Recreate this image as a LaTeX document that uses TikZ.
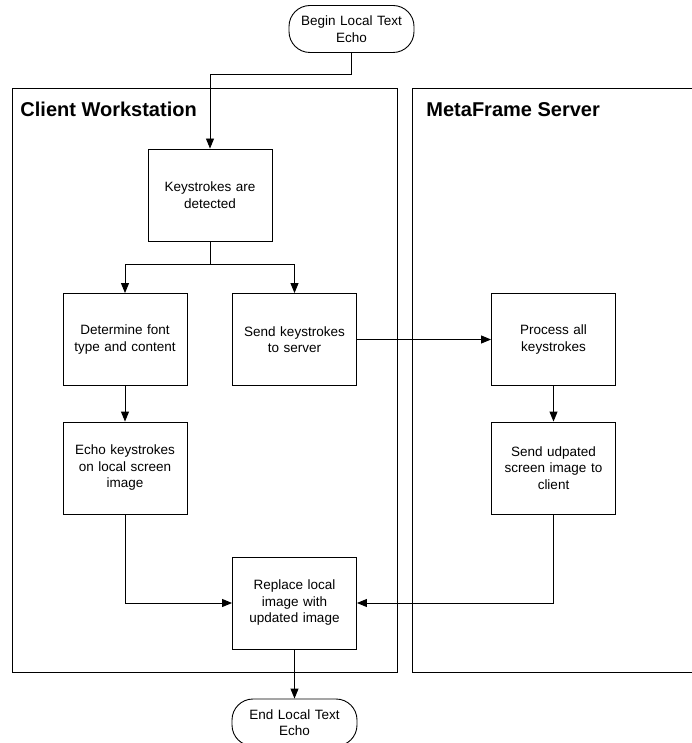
\documentclass[tikz,border=0pt]{standalone}
\usepackage{fontspec}
\setmainfont{Liberation Sans}
\usetikzlibrary{arrows.meta}
\begin{document}
\begin{tikzpicture}[x=1pt,y=-1pt,
  line width=0.9pt,
  stepbox/.style={draw, minimum width=124pt, minimum height=92pt, inner sep=2pt,
    text width=116pt, align=center, font=\fontsize{13.5}{16.5}\selectfont},
  term/.style={draw, rounded corners=21pt, minimum width=125pt, minimum height=47pt,
    inner sep=2pt, text width=120pt, align=center, font=\fontsize{13.5}{16.5}\selectfont},
  lanetitle/.style={anchor=base west, inner sep=0pt, font=\fontsize{20}{24}\selectfont\bfseries},
  arr/.style={-{Triangle[length=10pt,width=8pt]}},
  lane/.style={draw}]
\useasboundingbox (0,0) rectangle (692,743);
\clip (0,0) rectangle (692,743);
% lanes
\draw[lane] (12,88) rectangle (397,672);
\draw[lane] (700,88) -- (412,88) -- (412,672) -- (700,672);
\node[lanetitle] (t1) at (20,117) {Client Workstation};
\node[lanetitle] (t2) at (426,117) {MetaFrame Server};
% nodes
\node[term] (begin) at (351.5,29) {Begin Local Text\\Echo};
\node[stepbox] (kd) at (210,195) {Keystrokes are\\detected};
\node[stepbox] (df) at (125,339.5) {Determine font\\type and content};
\node[stepbox] (sk) at (294.5,339.5) {Send keystrokes\\to server};
\node[stepbox] (pk) at (553.5,339.5) {Process all\\keystrokes};
\node[stepbox] (ek) at (125,468) {Echo keystrokes\\on local screen\\image};
\node[stepbox] (su) at (553.5,468) {Send udpated\\screen image to\\client};
\node[stepbox] (ri) at (294.5,603) {Replace local\\image with\\updated image};
\node[term] (end) at (294.5,722.5) {End Local Text\\Echo};
% connectors
\draw[arr] (begin.south) -- ++(0,22) -| (kd.north);
\draw[arr] (kd.south) -- ++(0,23) -| (df.north);
\draw[arr] (kd.south) -- ++(0,23) -| (sk.north);
\draw[arr] (sk.east) -- (pk.west);
\draw[arr] (df.south) -- (ek.north);
\draw[arr] (pk.south) -- (su.north);
\draw[arr] (ek.south) |- (ri.west);
\draw[arr] (su.south) |- (ri.east);
\draw[arr] (ri.south) -- (end.north);
\end{tikzpicture}
\end{document}
